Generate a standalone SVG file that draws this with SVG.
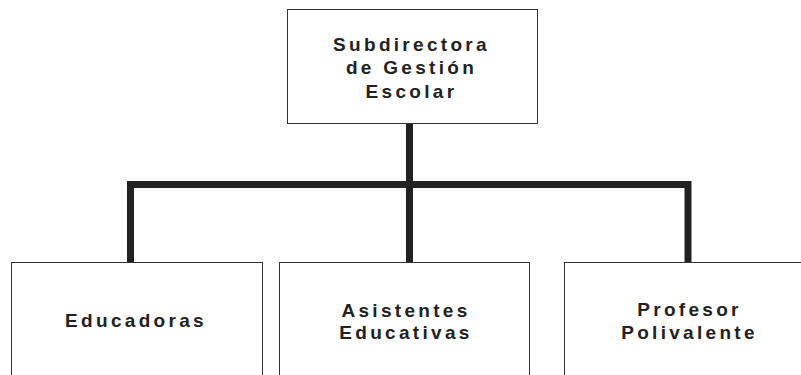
<svg xmlns="http://www.w3.org/2000/svg" width="801" height="375" viewBox="0 0 801 375">
<style>
.box{fill:#fff;stroke:#333;stroke-width:1}
.t{font-family:"Liberation Sans",Arial,sans-serif;font-weight:bold;font-size:19px;letter-spacing:3.3px;fill:#222;text-anchor:middle}
.c{fill:none;stroke:#222;stroke-width:7;stroke-linejoin:miter;stroke-linecap:butt}
</style>
<rect width="801" height="375" fill="#fff"/>
<g id="connectors">
<path class="c" d="M130.5 262 V184.5 H688 V262"/>
<path class="c" d="M409.5 123 V262"/>
</g>
<g id="subdirectora">
<rect class="box" x="287.5" y="9.5" width="250" height="114"/>
<text class="t" x="411.5" y="51">Subdirectora</text>
<text class="t" x="411.5" y="74">de Gestión</text>
<text class="t" x="411.5" y="97.5">Escolar</text>
</g>
<g id="educadoras">
<rect class="box" x="11.5" y="262.5" width="251" height="130"/>
<text class="t" x="136" y="326.5">Educadoras</text>
</g>
<g id="asistentes">
<rect class="box" x="279.5" y="262.5" width="250" height="130"/>
<text class="t" x="406" y="316.5">Asistentes</text>
<text class="t" x="406" y="339">Educativas</text>
</g>
<g id="profesor">
<rect class="box" x="564.5" y="262.5" width="251" height="130"/>
<text class="t" x="689.5" y="316">Profesor</text>
<text class="t" x="689.5" y="339">Polivalente</text>
</g>
</svg>
